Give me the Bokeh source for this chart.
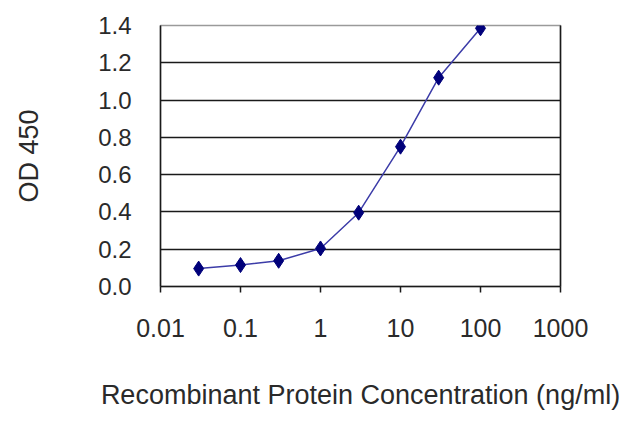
from bokeh.plotting import figure
from bokeh.models import Range1d, FixedTicker, LinearAxis
from bokeh.embed import file_html
from bokeh.resources import INLINE

conc = [0.03, 0.1, 0.3, 1, 3, 10, 30, 100]
od450 = [0.096, 0.115, 0.138, 0.204, 0.396, 0.75, 1.12, 1.385]

x_ticks = [0.01, 0.1, 1, 10, 100, 1000]
x_tick_labels = ["0.01", "0.1", "1", "10", "100", "1000"]
y_ticks = [0.0, 0.2, 0.4, 0.6, 0.8, 1.0, 1.2, 1.4]
y_tick_labels = ["0.0", "0.2", "0.4", "0.6", "0.8", "1.0", "1.2", "1.4"]
x_title = "Recombinant Protein Concentration (ng/ml)"
y_title = "OD 450"

FONT = "Liberation Sans"
TXT = "#2a2a2a"

p = figure(width=632, height=419, x_axis_type="log",
           x_range=Range1d(0.01, 1000), y_range=Range1d(0, 1.4),
           output_backend="svg", toolbar_location=None,
           min_border_left=160, min_border_right=72,
           min_border_top=25, min_border_bottom=133)
p.background_fill_color = "white"
p.border_fill_color = "white"
p.outline_line_color = "#9a9a9a"
p.outline_line_width = 1.5

# grid
p.xgrid.visible = False
p.ygrid.ticker = FixedTicker(ticks=y_ticks[1:-1])
p.ygrid.grid_line_color = "#1a1a1a"
p.ygrid.grid_line_width = 1.5

# x axis
xa = p.xaxis[0]
xa.ticker = FixedTicker(ticks=x_ticks)
xa.major_label_overrides = {t: s for t, s in zip(x_ticks, x_tick_labels)}
xa.minor_tick_line_color = None
xa.major_tick_in = 0
xa.major_tick_out = 6
xa.major_tick_line_color = "#1a1a1a"
xa.major_tick_line_width = 1.5
xa.axis_line_color = "#1a1a1a"
xa.axis_line_width = 1.5
xa.major_label_standoff = 26
xa.major_label_text_font = FONT
xa.major_label_text_font_size = "25px"
xa.major_label_text_color = TXT
xa.axis_label = x_title
xa.axis_label_text_font = FONT
xa.axis_label_text_font_size = "27px"
xa.axis_label_text_font_style = "normal"
xa.axis_label_text_color = TXT
xa.axis_label_standoff = 40

# y axis
ya = p.yaxis[0]
ya.ticker = FixedTicker(ticks=y_ticks)
ya.major_label_overrides = {t: s for t, s in zip(y_ticks, y_tick_labels)}
ya.minor_tick_line_color = None
ya.major_tick_in = 0
ya.major_tick_out = 0
ya.axis_line_color = "#1a1a1a"
ya.axis_line_width = 1.5
ya.major_label_standoff = 29
ya.major_label_text_font = FONT
ya.major_label_text_font_size = "24px"
ya.major_label_text_color = TXT
ya.axis_label = y_title
ya.axis_label_text_font = FONT
ya.axis_label_text_font_size = "27px"
ya.axis_label_text_font_style = "normal"
ya.axis_label_text_color = TXT
ya.axis_label_standoff = 51

# right border axis
ra = LinearAxis(ticker=FixedTicker(ticks=[]), major_label_text_font_size="0px",
                axis_line_color="#1a1a1a", axis_line_width=1.5,
                major_tick_line_color=None, minor_tick_line_color=None)
p.add_layout(ra, "right")

p.line(conc, od450, line_color="#3c3ca8", line_width=1.5)
p.scatter(conc, od450, marker="diamond", size=15, fill_color="#00007a",
          line_color="#00007a")

open("out.html", "w").write(file_html(p, INLINE))
